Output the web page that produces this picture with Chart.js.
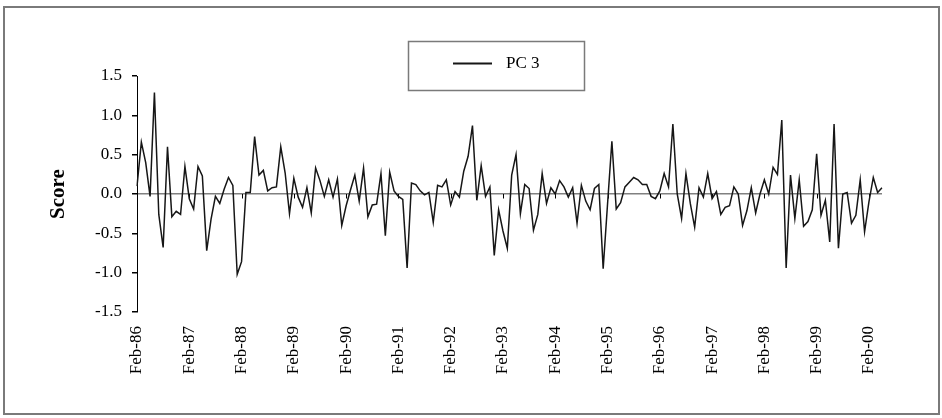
<!DOCTYPE html>
<html>
<head>
<meta charset="utf-8">
<title>PC 3 score</title>
<script src="https://cdn.jsdelivr.net/npm/chart.js@4.4.1/dist/chart.umd.min.js"></script>
<style>
    html, body { margin: 0; padding: 0; background: #fff; }
    #scoreChart { display: block; }
</style>
</head>
<body>
<canvas id="scoreChart" width="942" height="418"></canvas>
<script>
// monthly scores of the third principal component, Feb-86 onwards
const startYear = 1986;
const startMonth = 1; // February
const monthNames = ['Jan', 'Feb', 'Mar', 'Apr', 'May', 'Jun', 'Jul', 'Aug', 'Sep', 'Oct', 'Nov', 'Dec'];

const pc3Scores = [
    0.10, 0.66, 0.40, -0.03, 1.29, -0.26, -0.68, 0.60, -0.29, -0.22, -0.26, 0.35,
    -0.06, -0.19, 0.35, 0.23, -0.72, -0.32, -0.03, -0.12, 0.06, 0.21, 0.11, -1.02,
    -0.86, 0.02, 0.02, 0.73, 0.24, 0.30, 0.04, 0.08, 0.09, 0.60, 0.27, -0.25,
    0.20, -0.04, -0.17, 0.08, -0.24, 0.33, 0.17, -0.03, 0.18, -0.04, 0.19, -0.40,
    -0.15, 0.05, 0.24, -0.09, 0.33, -0.29, -0.14, -0.13, 0.26, -0.53, 0.28, 0.04,
    -0.03, -0.07, -0.94, 0.14, 0.12, 0.04, -0.01, 0.02, -0.36, 0.11, 0.09, 0.18,
    -0.14, 0.03, -0.04, 0.29, 0.48, 0.87, -0.08, 0.36, -0.03, 0.09, -0.78, -0.20,
    -0.47, -0.69, 0.24, 0.50, -0.25, 0.12, 0.07, -0.46, -0.26, 0.26, -0.12, 0.08,
    0.00, 0.17, 0.09, -0.04, 0.08, -0.37, 0.11, -0.09, -0.20, 0.07, 0.12, -0.95,
    -0.13, 0.67, -0.19, -0.11, 0.09, 0.15, 0.21, 0.18, 0.12, 0.12, -0.03, -0.06,
    0.04, 0.26, 0.09, 0.89, 0.00, -0.31, 0.26, -0.12, -0.42, 0.08, -0.04, 0.26,
    -0.06, 0.03, -0.26, -0.17, -0.15, 0.09, 0.00, -0.40, -0.21, 0.08, -0.24, 0.00,
    0.18, 0.00, 0.34, 0.25, 0.94, -0.94, 0.24, -0.31, 0.18, -0.41, -0.35, -0.20,
    0.51, -0.27, -0.08, -0.61, 0.89, -0.69, 0.00, 0.02, -0.37, -0.27, 0.18, -0.48,
    -0.10, 0.21, 0.02, 0.08
];

// y axis
const yMin = -1.5;
const yMax = 1.5;
const yStep = 0.5;

const serif = '"Liberation Serif", "Times New Roman", Times, serif';

// one label per month, e.g. "Feb-86"
const monthLabels = pc3Scores.map((v, i) => {
    const m = (startMonth + i) % 12;
    const y = startYear + Math.floor((startMonth + i) / 12);
    return monthNames[m] + '-' + String(y % 100).padStart(2, '0');
});

// grey frame round the whole chart
const frame = {
    id: 'frame',
    afterDraw(chart) {
        const ctx = chart.ctx;
        ctx.save();
        ctx.strokeStyle = '#7a7a7a';
        ctx.lineWidth = 2;
        ctx.strokeRect(4, 7, 935, 407);
        ctx.restore();
    }
};

// small marks under the zero line, one per year
const yearTicks = {
    id: 'yearTicks',
    beforeDatasetsDraw(chart) {
        const x = chart.scales.x;
        const y0 = chart.scales.y.getPixelForValue(0);
        const ctx = chart.ctx;
        ctx.save();
        ctx.strokeStyle = '#000';
        ctx.lineWidth = 1;
        ctx.beginPath();
        for (let i = 0; i < monthLabels.length; i += 12) {
            const px = Math.round(x.getPixelForValue(i)) + 0.5;
            ctx.moveTo(px, y0);
            ctx.lineTo(px, y0 + 4.5);
        }
        ctx.stroke();
        ctx.restore();
    }
};

// legend drawn as a framed box above the plot
const boxLegend = {
    id: 'boxLegend',
    afterDraw(chart) {
        const ds = chart.data.datasets[0];
        const ctx = chart.ctx;
        ctx.save();
        ctx.strokeStyle = '#7a7a7a';
        ctx.lineWidth = 1.5;
        ctx.strokeRect(408.5, 41.5, 176, 49);
        ctx.strokeStyle = ds.borderColor;
        ctx.lineWidth = 2;
        ctx.beginPath();
        ctx.moveTo(453, 63.5);
        ctx.lineTo(492, 63.5);
        ctx.stroke();
        ctx.fillStyle = '#000';
        ctx.font = '17px ' + serif;
        ctx.textBaseline = 'middle';
        ctx.fillText(ds.label, 506, 64);
        ctx.restore();
    }
};

const ctx = document.getElementById('scoreChart').getContext('2d');

new Chart(ctx, {
    type: 'line',
    data: {
        labels: monthLabels,
        datasets: [{
            label: 'PC 3',
            data: pc3Scores,
            borderColor: '#161616',
            borderWidth: 1.5,
            pointRadius: 0,
            tension: 0,
            fill: false
        }]
    },
    options: {
        responsive: false,
        animation: false,
        events: [],
        layout: {
            padding: { top: 76, right: 60, bottom: 0, left: 0 }
        },
        plugins: {
            legend: { display: false },
            tooltip: { enabled: false }
        },
        scales: {
            x: {
                type: 'category',
                offset: false,
                afterFit(scale) { scale.height = 106; },
                grid: { display: false, drawTicks: false },
                border: { display: false },
                ticks: {
                    autoSkip: false,
                    minRotation: 90,
                    maxRotation: 90,
                    padding: 14,
                    color: '#000',
                    font: { family: serif, size: 17 },
                    callback: function(value, index) {
                        return index % 12 === 0 ? this.getLabelForValue(value) : '';
                    }
                }
            },
            y: {
                min: yMin,
                max: yMax,
                afterFit(scale) { scale.width = 137; },
                border: { color: '#000', width: 1 },
                grid: {
                    drawTicks: true,
                    tickLength: 5,
                    tickColor: '#000',
                    lineWidth: 1.5,
                    color: c => (c.tick && c.tick.value === 0) ? '#808080' : 'rgba(0,0,0,0)'
                },
                ticks: {
                    stepSize: yStep,
                    padding: 10,
                    color: '#000',
                    font: { family: serif, size: 17 },
                    callback: v => v.toFixed(1)
                },
                title: {
                    display: true,
                    text: 'Score',
                    color: '#000',
                    font: { family: serif, size: 21, weight: 'bold' },
                    padding: { top: 46, bottom: 0 }
                }
            }
        }
    },
    plugins: [frame, yearTicks, boxLegend]
});
</script>
</body>
</html>
